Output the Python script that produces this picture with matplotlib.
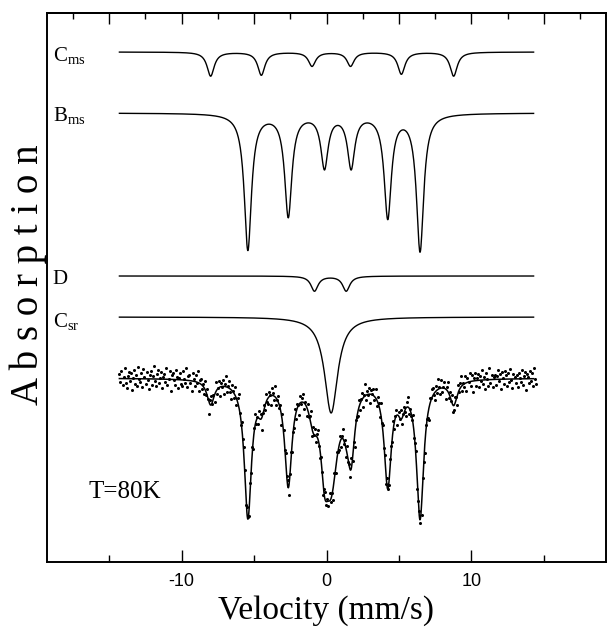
import numpy as np
import matplotlib.pyplot as plt

plt.rcParams['mathtext.fontset'] = 'custom'
plt.rcParams['mathtext.rm'] = 'Liberation Serif'
plt.rcParams['mathtext.it'] = 'Liberation Serif'

# Lorentzian components: position (mm/s), depth, half width
cms_pos = [-8.0, -4.5, -1.0, 1.66, 5.17, 8.78]
cms_depth = [24, 23, 14, 14, 22, 24]
cms_hw = [0.3, 0.3, 0.3, 0.3, 0.3, 0.3]

bms_pos = [-5.43, -2.64, -0.14, 1.70, 4.23, 6.46]
bms_depth = [136, 102, 53, 53, 103, 137]
bms_hw = [0.3, 0.3, 0.3, 0.3, 0.3, 0.3]

d_pos = [-0.83, 1.36]
d_depth = [15, 15]
d_hw = [0.3, 0.3]

csr_pos = [0.32]
csr_depth = [96]
csr_hw = [0.55]

# measured points: deviation from the fit, one value per channel
noise = [
    5, -3, 8, -6, 2, 11, -4, -9, 3, 7, -2, 6, -11, 1, 9, -5, 4, -7, 12, 0,
    -3, 6, -8, 10, 2, -5, 7, -1, -10, 4, 8, -6, 3, 13, -2, -7, 5, 9, -4, 1,
    7, -9, 2, 5, -3, 11, -6, 0, 8, -12, 4, 6, -1, -5, 10, 3, -8, 2, 7, -4,
    -6, 9, 1, -3, 12, -7, 4, 6, -2, -10, 8, 2, -5, 7, -1, 11, -8, 3, 5, -4,
    2, -6, 9, -3, 6, 0, -11, 5, 8, -2, 3, -7, 10, -4, 1, 7, -9, 4, -1, 6,
    -8, 3, 11, -5, 2, 7, -3, -9, 6, 1, -4, 9, -6, 4, 12, -2, -7, 5, 0, 8,
    4, -10, 6, 2, -5, 9, -1, 7, -8, 3, 10, -4, 1, -6, 8, 5, -12, 2, 6, -3,
    9, -2, -6, 5, 1, -9, 7, 3, -4, 11, -7, 0, 6, -3, 4, -10, 8, 2, -5, 7,
    -1, 6, -8, 3, 10, -5, 2, -3, 9, -7, 5, 1, -11, 7, -2, 4, 8, -6, 3, -9,
    6, -4, 2, 12, -8, 5, -1, 7, -6, 3, 9, -2, -7, 4, 1, -10, 6, 8, -3, 2,
    -5, 8, -2, 4, -9, 11, 3, -6, 7, 0, -4, 6, -8, 2, 10, -3, 5, -7, 9, -1,
    3, -7, 10, -2, 5, -11, 6, 1, -4, 8, -6, 3, 7, -9, 2, 12, -5, 4, -1, 6,
    -9, 4, 1, 7, -3, 9, -6, 5, 2, -8, 11, -2, 6, -5, 3, -10, 8, 0, -4, 7,
    5, -3, 8, -7, 2, 6, -10, 4, -1, 9, -5, 3, 7, -2, -8, 5, 10, -6, 1, -3,
    -2, 9, -5, 3, 11, -7, 1, 6, -4, -9, 7, 2, -6, 8, 4, -3, -11, 6, 2, 9,
    7, -1, -8, 5, -3, 10, 2, -6, 8, -4, 1, 6, -10, 3, 9, -5, 4, -2, 7, -7,
    -4, 6, 3, -9, 8, -2, 5, 11, -6, 2, -3, 7, -8, 4, 0, 9, -5, 6, -11, 3,
    8, -5, 2, 6, -7, 4, -1, 10, -4, 3, -9, 7, 1, -6, 12, -3, 5, -8, 2, 4,
    -6, 3, 9, -2, 5, -10, 7, 1, -5, 8, 4, -7, 6, -3, 10, -1, -9, 5, 2, -4,
    4, -8, 6, 1, -3, 9, -6, 3, 7, -11, 5, 2, -4, 8, -2, 6, -7, 11, 0, -5,
]

labels = [r'C$_{\rm ms}$', r'B$_{\rm ms}$', 'D', r'C$_{\rm sr}$']


def lorentz(v, pos, depth, hw):
    y = np.zeros_like(v)
    for p, d, w in zip(pos, depth, hw):
        y += d / (1 + ((v - p) / w) ** 2)
    return y


v = np.linspace(-14.3, 14.3, 1200)
v_ch = np.linspace(-14.3, 14.5, len(noise))

comps = [(cms_pos, cms_depth, cms_hw), (bms_pos, bms_depth, bms_hw),
         (d_pos, d_depth, d_hw), (csr_pos, csr_depth, csr_hw)]
offsets = [510, 449, 286, 245]
label_y = [506, 446, 283, 240]
base = 184

fig = plt.figure(figsize=(6.08, 6.30), dpi=100)
ax = fig.add_axes([47 / 608, 68 / 630, 559 / 608, 549 / 630])

total = np.zeros_like(v)
total_ch = np.zeros_like(v_ch)
for (pos, dep, hw), off, lab, ly in zip(comps, offsets, labels, label_y):
    ax.plot(v, off - lorentz(v, pos, dep, hw), color='black', lw=1.0)
    ax.text(-18.9, ly, lab, fontsize=15, family='Liberation Serif', va='center', ha='left')
    total += lorentz(v, pos, dep, hw)
    total_ch += lorentz(v_ch, pos, dep, hw)

ax.plot(v_ch, base - total_ch + np.array(noise), 'o', color='black', ms=2.2, mew=0)
ax.plot(v, base - total, color='black', lw=1.1)

ax.text(-16.4, 70, 'T=80K', fontsize=18, family='Liberation Serif', va='center', ha='left')

ax.set_xlim(-19.3, 19.3)
ax.set_ylim(0, 549)
ax.set_yticks([])
ax.set_xticks([-10, 0, 10])
ax.set_xticklabels(['-10', '0', '10'], family='Liberation Sans', fontsize=13)
ax.set_xticks([-15, -5, 5, 15], minor=True)
ax.tick_params(axis='x', which='major', direction='in', length=9, width=1, pad=8)
ax.tick_params(axis='x', which='minor', direction='in', length=5, width=1)

top = ax.secondary_xaxis('top')
top.set_xticks(np.arange(-15, 16, 5))
top.set_xticks(np.arange(-17.5, 18, 5), minor=True)
top.set_xticklabels([])
top.tick_params(which='major', direction='in', length=8, width=1)
top.tick_params(which='minor', direction='in', length=4, width=1)

for s in ax.spines.values():
    s.set_linewidth(1.4)
top.spines['top'].set_linewidth(1.4)

ax.set_xlabel('Velocity (mm/s)', family='Liberation Serif', fontsize=24, labelpad=4)
fig.text(28 / 608, 1 - 275 / 630, 'A b s o r p t i o n', family='Liberation Serif',
         fontsize=28, rotation=90, ha='center', va='center')

plt.savefig('out.png', dpi=100)
